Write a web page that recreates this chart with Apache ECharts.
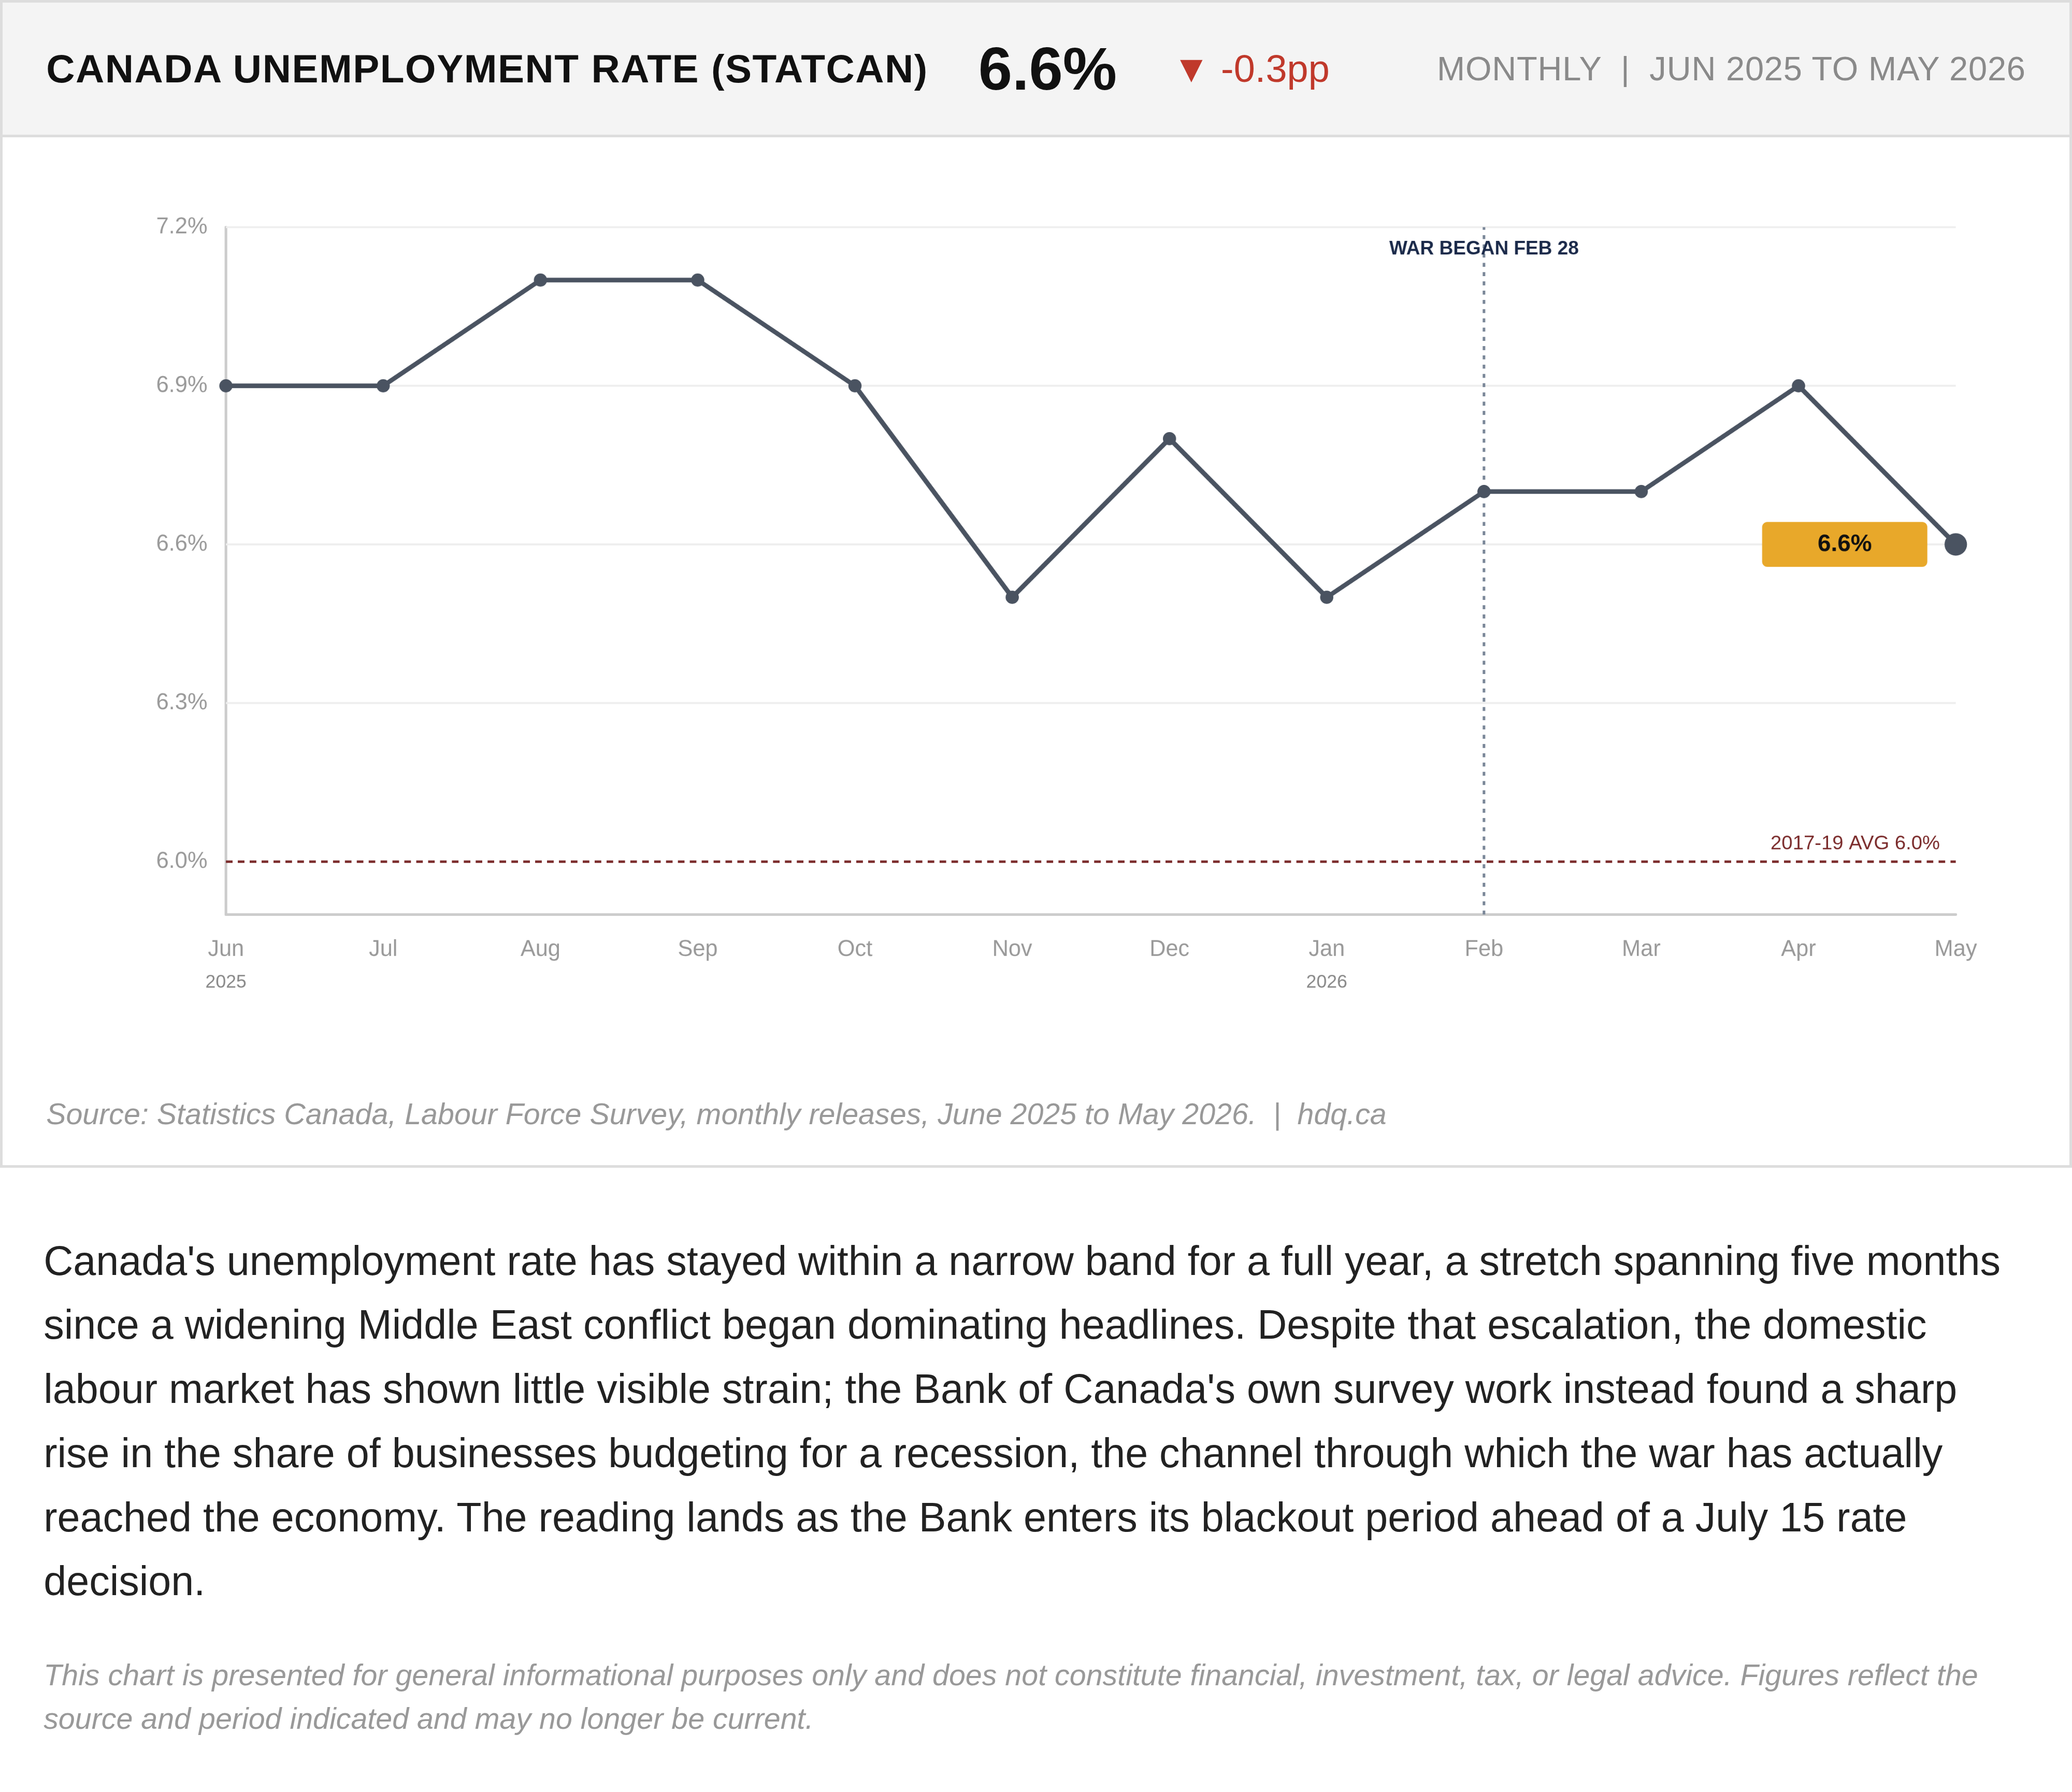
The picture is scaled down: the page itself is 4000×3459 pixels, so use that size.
<!DOCTYPE html>
<html><head><meta charset="utf-8">
<script src="https://cdn.jsdelivr.net/npm/echarts@6/dist/echarts.min.js"></script>
<style>
html,body{margin:0;padding:0;background:#fff;}
#wrap{width:1568px;zoom:2.551;font-family:"Liberation Sans",Arial,sans-serif;}
.card{border:2px solid #ddd;box-sizing:border-box;width:1568px;}
.hdr{height:100px;background:#f4f4f4;border-bottom:2px solid #ddd;display:flex;align-items:center;padding:0 33px;position:relative;}
.t{font-size:30px;font-weight:bold;color:#111;letter-spacing:0.6px;}
.v{font-size:46px;font-weight:bold;color:#111;margin-left:38px;}
.d{font-size:29px;color:#c0392b;margin-left:42px;}
.r{position:absolute;right:33px;font-size:25.5px;color:#8a8a8a;letter-spacing:0.3px;}
#chart{width:1564px;height:700px;}
.src{font-size:22.5px;font-style:italic;color:#999;padding:26px 33px 26px;}
.body{font-size:31px;line-height:48.5px;color:#222;padding:46px 33px 0;}
.disc{font-size:22.5px;font-style:italic;color:#999;line-height:33px;padding:30px 33px 0;}
</style></head><body>
<div id="wrap">
<div class="card">
<div class="hdr"><span class="t">CANADA UNEMPLOYMENT RATE (STATCAN)</span><span class="v">6.6%</span><span class="d">▼ -0.3pp</span><span class="r">MONTHLY &nbsp;|&nbsp; JUN 2025 TO MAY 2026</span></div>
<div id="chart"></div>
<div class="src">Source: Statistics Canada, Labour Force Survey, monthly releases, June 2025 to May 2026. &nbsp;| &nbsp;hdq.ca</div>
</div>
<div class="body">Canada's unemployment rate has stayed within a narrow band for a full year, a stretch spanning five months since a widening Middle East conflict began dominating headlines. Despite that escalation, the domestic labour market has shown little visible strain; the Bank of Canada's own survey work instead found a sharp rise in the share of businesses budgeting for a recession, the channel through which the war has actually reached the economy. The reading lands as the Bank enters its blackout period ahead of a July 15 rate decision.</div>
<div class="disc">This chart is presented for general informational purposes only and does not constitute financial, investment, tax, or legal advice. Figures reflect the source and period indicated and may no longer be current.</div>
</div>
<script>
const months=['Jun','Jul','Aug','Sep','Oct','Nov','Dec','Jan','Feb','Mar','Apr','May'];
const years={'Jun':'2025','Jan':'2026'};
const rates=[6.9,6.9,7.1,7.1,6.9,6.5,6.8,6.5,6.7,6.7,6.9,6.6];
const yTicks=[6.0,6.3,6.6,6.9,7.2];
const avgValue=6.0;
const eventMonth='Feb';
const chart=echarts.init(document.getElementById('chart'),null,{devicePixelRatio:3});
const n=rates.length;
chart.setOption({
  animation:false,
  textStyle:{fontFamily:'Liberation Sans, Arial, sans-serif'},
  grid:{left:169,right:86,top:68,bottom:112},
  xAxis:{type:'category',data:months,boundaryGap:false,
    axisLine:{lineStyle:{color:'#ccc',width:2}},axisTick:{show:false},
    axisLabel:{margin:14,color:'#999',fontSize:17,lineHeight:25,
      formatter:v=>years[v]?v+'\n{y|'+years[v]+'}':v,
      rich:{y:{fontSize:14,color:'#888'}}},
    splitLine:{show:false}},
  yAxis:{type:'value',min:5.9,max:7.2,interval:0.1,
    axisLine:{show:true,lineStyle:{color:'#ccc',width:2}},axisTick:{show:false},
    splitLine:{show:false},
    axisLabel:{margin:14,color:'#999',fontSize:17,
      formatter:v=>yTicks.some(t=>Math.abs(t-v)<1e-6)?v.toFixed(1)+'%':''}},
  series:[
   {type:'line',data:yTicks.filter(t=>t>avgValue).map(()=>null),silent:true,
    markLine:{symbol:'none',silent:true,label:{show:false},lineStyle:{color:'#eee',type:'solid',width:1.5},
      data:yTicks.filter(t=>t>avgValue).map(t=>({yAxis:t}))}},
   {type:'line',data:rates.map((v,i)=>({value:v,symbolSize:i===n-1?17:10,
      label:i===n-1?{show:true,position:'left',distance:13,formatter:v.toFixed(1)+'%',
        backgroundColor:'#e8a82a',color:'#111',fontWeight:'bold',fontSize:18,
        padding:[8,42,8,42],borderRadius:4}:{show:false}})),
    symbol:'circle',lineStyle:{color:'#4a5361',width:3.5},itemStyle:{color:'#4a5361'},z:5,
    markLine:{symbol:'none',silent:true,data:[
      {xAxis:eventMonth,lineStyle:{color:'#7a8798',type:[3,4],width:2},
       label:{position:'end',formatter:'WAR BEGAN FEB 28',color:'#1b2a4a',fontWeight:'bold',fontSize:14.5,distance:-24}},
      {yAxis:avgValue,lineStyle:{color:'#7a2a2a',type:[5,4],width:1.8},
       label:{position:'insideEndTop',formatter:'2017-19 AVG 6.0%',color:'#7a2a2a',fontSize:15,distance:[12,6]}}
    ]}}
  ]
});
</script>
</body></html>
